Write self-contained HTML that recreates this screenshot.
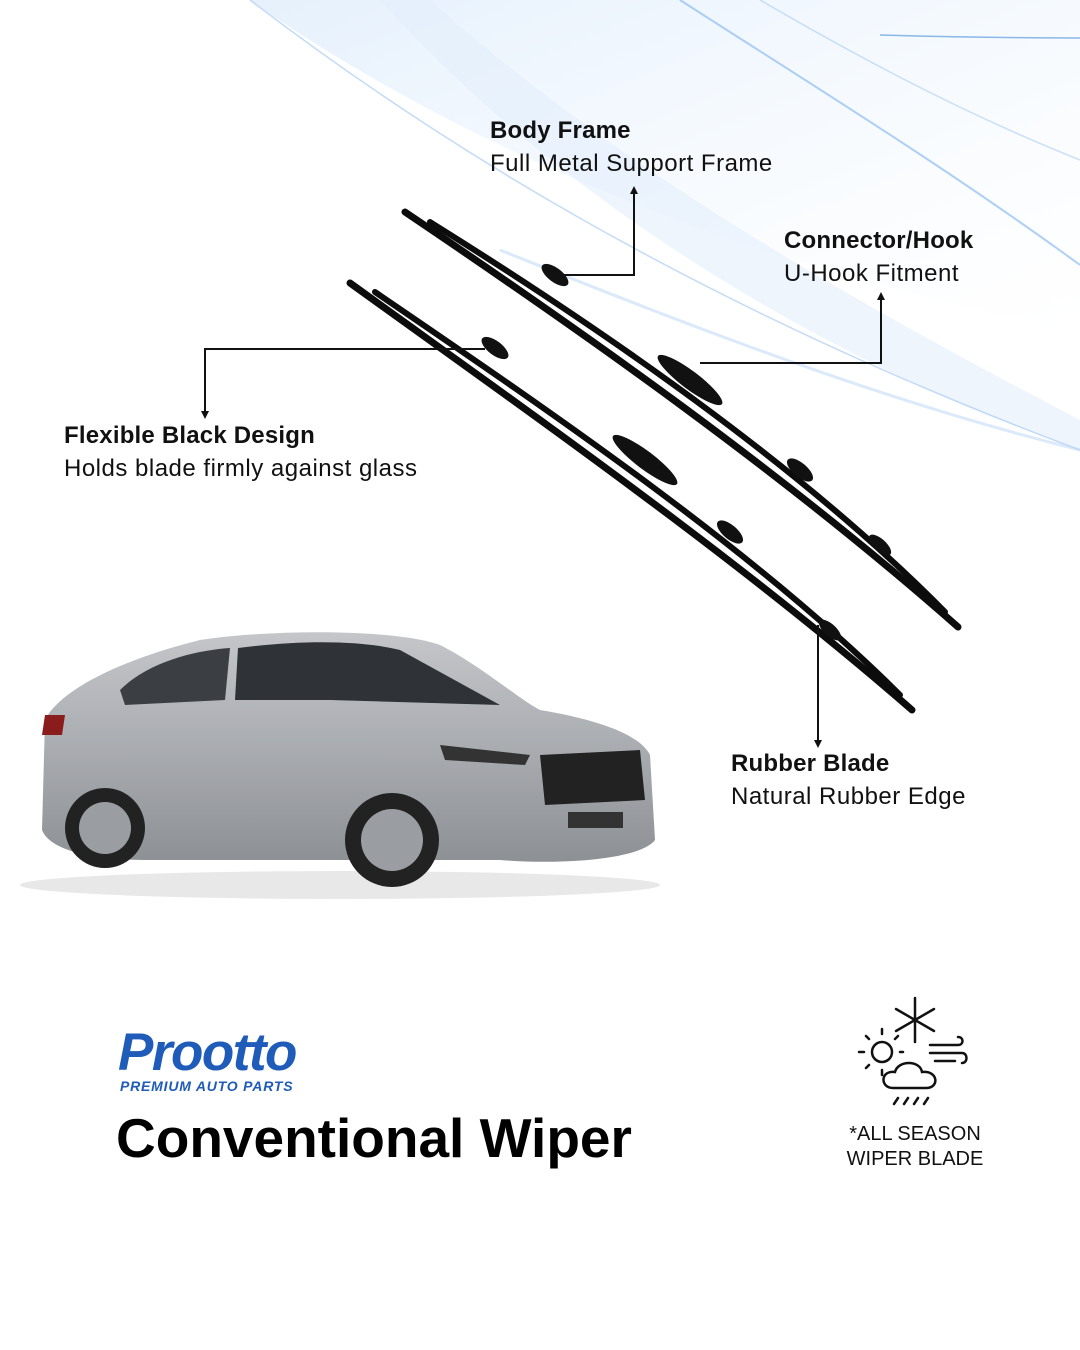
<!DOCTYPE html>
<html><head><meta charset="utf-8"><style>
*{margin:0;padding:0}
body{width:1080px;height:1350px;overflow:hidden;background:#fff;font-family:"Liberation Sans",sans-serif;position:relative}
.t{position:absolute;font-size:24px;letter-spacing:0.5px;color:#111;line-height:33px;white-space:nowrap}
.t b{font-weight:bold;letter-spacing:0.2px}
</style></head><body>
<svg width="1080" height="1350" style="position:absolute;left:0;top:0">
<defs>
<linearGradient id="g1" x1="0" y1="0" x2="1" y2="1"><stop offset="0" stop-color="#cfe4fa" stop-opacity="0.9"/><stop offset="1" stop-color="#eaf3fd" stop-opacity="0"/></linearGradient>
<linearGradient id="car" x1="0" y1="0" x2="0" y2="1"><stop offset="0" stop-color="#c4c6ca"/><stop offset="0.5" stop-color="#a9acb0"/><stop offset="1" stop-color="#8d9094"/></linearGradient>
</defs>
<path d="M250 0 C420 120 700 260 1080 330 L1080 0 Z" fill="url(#g1)" opacity="0.6"/>
<path d="M430 0 C620 170 850 300 1080 420 L1080 450 C820 360 560 200 380 0Z" fill="#e3effb" opacity="0.6"/>
<path d="M250 0 C420 130 680 300 1080 450" stroke="#a9ccf2" stroke-width="1.5" fill="none" opacity="0.7"/>
<path d="M680 0 C820 90 950 170 1080 265" stroke="#8dbcf0" stroke-width="2" fill="none" opacity="0.7"/>
<path d="M760 0 C880 70 980 120 1080 160" stroke="#a9ccf2" stroke-width="1.5" fill="none" opacity="0.6"/>
<path d="M880 35 C950 37 1010 38 1080 38" stroke="#5c9be0" stroke-width="1.5" fill="none" opacity="0.7"/>
<path d="M500 250 C700 330 880 400 1080 450" stroke="#b7d5f5" stroke-width="3" fill="none" opacity="0.5"/>
<g stroke="#0c0c0c" fill="none" stroke-linecap="round">
<path d="M405 212 C580 330 780 470 958 627" stroke-width="7"/>
<path d="M430 222 C600 328 800 465 945 612" stroke-width="6"/>
<path d="M350 283 C540 420 740 560 912 710" stroke-width="7"/>
<path d="M375 292 C560 418 760 555 900 695" stroke-width="6"/>
</g>
<g fill="#111">
<ellipse cx="690" cy="380" rx="40" ry="9" transform="rotate(37 690 380)"/>
<ellipse cx="645" cy="460" rx="40" ry="9" transform="rotate(37 645 460)"/>
<ellipse cx="555" cy="275" rx="16" ry="7" transform="rotate(37 555 275)"/>
<ellipse cx="495" cy="348" rx="16" ry="7" transform="rotate(37 495 348)"/>
<ellipse cx="800" cy="470" rx="16" ry="7" transform="rotate(40 800 470)"/>
<ellipse cx="730" cy="532" rx="16" ry="7" transform="rotate(40 730 532)"/>
<ellipse cx="880" cy="545" rx="14" ry="6" transform="rotate(42 880 545)"/>
<ellipse cx="830" cy="630" rx="14" ry="6" transform="rotate(42 830 630)"/>
</g>
<g stroke="#111" stroke-width="2" fill="none">
<polyline points="560,275 634,275 634,192"/>
<polyline points="700,363 881,363 881,298"/>
<polyline points="485,349 205,349 205,413"/>
<polyline points="818,625 818,742"/>
</g>
<g fill="#111">
<path d="M630 194 L634 186 L638 194Z"/><path d="M877 300 L881 292 L885 300Z"/>
<path d="M201 411 L205 419 L209 411Z"/><path d="M814 740 L818 748 L822 740Z"/>
</g>
<ellipse cx="340" cy="885" rx="320" ry="14" fill="#d8d8d8" opacity="0.6"/>
<path d="M45 720 C60 690 120 660 200 640 C280 628 400 630 440 645 C480 665 520 700 540 710 C600 720 640 735 650 755 L655 840 C640 860 560 865 500 860 L150 860 C90 860 50 850 42 830 Z" fill="url(#car)"/>
<path d="M120 690 C150 660 200 650 230 648 L225 700 L125 705Z" fill="#3b3f44"/>
<path d="M238 648 C300 640 360 640 400 650 L500 705 L330 700 L235 700Z" fill="#2f3338"/>
<path d="M540 755 L640 750 L645 800 L545 805Z" fill="#222"/>
<path d="M440 745 L530 755 L525 765 L445 760Z" fill="#333"/>
<path d="M45 715 L65 715 L62 735 L42 735Z" fill="#8a1c1c"/>
<circle cx="105" cy="828" r="40" fill="#222"/><circle cx="105" cy="828" r="26" fill="#9a9da1"/>
<circle cx="392" cy="840" r="47" fill="#222"/><circle cx="392" cy="840" r="31" fill="#9a9da1"/>
<rect x="568" y="812" width="55" height="16" fill="#333"/>
<g stroke="#111" stroke-width="2.5" fill="none" stroke-linecap="round">
<path d="M915 998 L915 1042 M896 1009 L934 1031 M896 1031 L934 1009"/>
<circle cx="882" cy="1052" r="10"/>
<path d="M882 1034v-5 M882 1070v5 M864 1052h-5 M900 1052h3 M869 1039l-3-3 M895 1039l3-3 M869 1065l-3 3"/>
<path d="M893 1088 C880 1088 880 1070 895 1072 C898 1060 920 1060 922 1072 C938 1070 940 1088 926 1088Z"/>
<path d="M930 1045h28 M930 1053h32 M935 1061h20 M958 1045c6 0 6-8 0-8 M962 1053c6 0 6 10 0 10"/>
<path d="M898 1098l-4 6 M908 1098l-4 6 M918 1098l-4 6 M928 1098l-4 6"/>
</g>
</svg>
<div class="t" style="left:490px;top:114px"><b>Body Frame</b><br>Full Metal Support Frame</div>
<div class="t" style="left:784px;top:224px"><b>Connector/Hook</b><br>U-Hook Fitment</div>
<div class="t" style="left:64px;top:419px"><b>Flexible Black Design</b><br>Holds blade firmly against glass</div>
<div class="t" style="left:731px;top:747px"><b>Rubber Blade</b><br>Natural Rubber Edge</div>
<div style="position:absolute;left:118px;top:1022px;font-size:53px;font-weight:bold;font-style:italic;color:#1f5bb8;letter-spacing:-1.5px">Prootto</div>
<div style="position:absolute;left:120px;top:1078px;font-size:14px;font-weight:bold;font-style:italic;color:#1f5bb8;letter-spacing:0.8px">PREMIUM AUTO PARTS</div>
<div style="position:absolute;left:116px;top:1106px;font-size:55px;font-weight:bold;color:#000">Conventional Wiper</div>
<div style="position:absolute;left:835px;top:1122px;width:160px;text-align:center;font-size:20px;line-height:25px;color:#111">*ALL SEASON<br>WIPER BLADE</div>
</body></html>
